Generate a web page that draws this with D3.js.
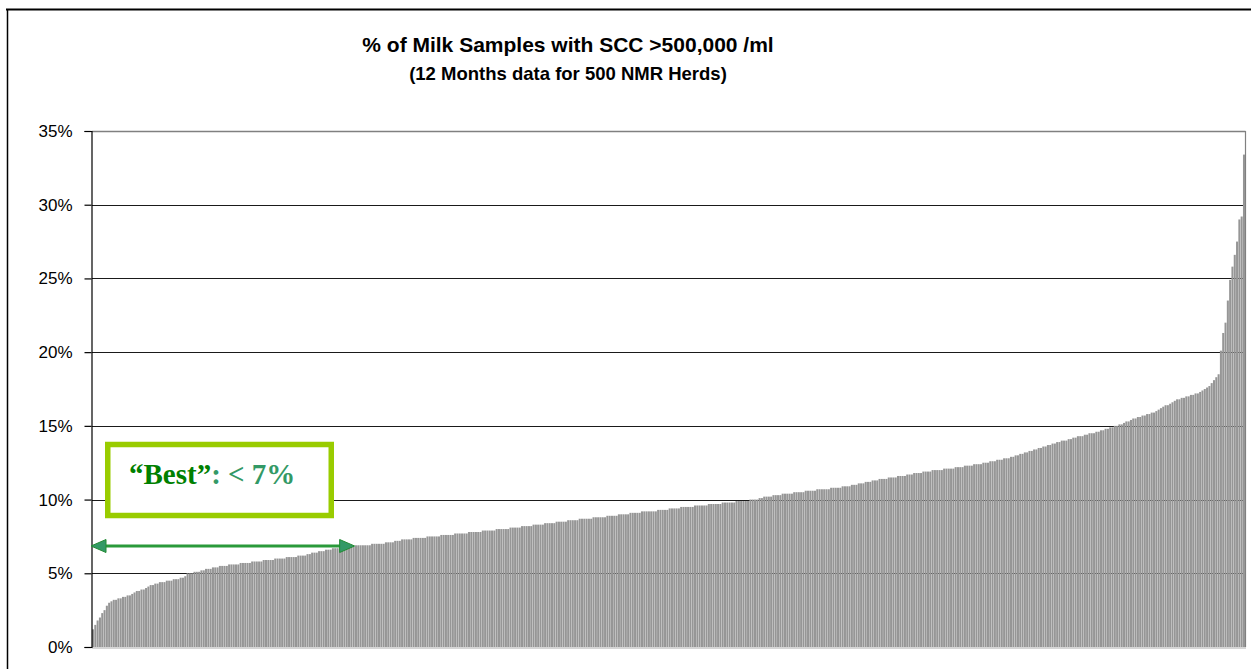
<!DOCTYPE html>
<html>
<head>
<meta charset="utf-8">
<script src="https://cdn.jsdelivr.net/npm/d3@7"></script>
<style>
  html, body { margin: 0; padding: 0; background: #fff; }
  svg { display: block; }
</style>
</head>
<body>
<svg id="chart" width="1251" height="669"></svg>
<script>
// ---------------- DATA ----------------
const titleText = "% of Milk Samples with SCC >500,000 /ml";
const subtitleText = "(12 Months data for 500 NMR Herds)";
const yTicks = [0, 0.05, 0.10, 0.15, 0.20, 0.25, 0.30, 0.35];
const yTickLabels = ["0%", "5%", "10%", "15%", "20%", "25%", "30%", "35%"];
const bestLabelDark = "\u201CBest\u201D";
const bestLabelLight = ": < 7%";
const bestArrowEndHerd = 113;   // herd rank where the "< 7%" arrow ends

// % of samples > 500,000 /ml, herds sorted ascending (percent values)
const herdsLowest = [
  1.2,1.5,1.8,2.0,2.3,2.5,2.8,3.0,3.1,3.2,
  3.2,3.3,3.3,3.4,3.4,3.5,3.5,3.6,3.7,3.8,
  3.8,3.9,3.9,4.0,4.1,4.2,4.2,4.3,4.3,4.4,
  4.4,4.4,4.5,4.5,4.5,4.6,4.6,4.6,4.7,4.7,
  4.8
];
const herdsBest = [
  5.0,5.0,5.0,5.1,5.1,5.1,5.2,5.2,5.3,5.3,5.3,5.4,
  5.4,5.4,5.5,5.5,5.5,5.5,5.6,5.6,5.6,5.6,5.6,5.7,5.7,5.7,5.7,
  5.7,5.8,5.8,5.8,5.8,5.8,5.9,5.9,5.9,5.9,5.9,6.0,6.0,6.0,6.0,
  6.0,6.1,6.1,6.1,6.1,6.1,6.2,6.2,6.2,6.2,6.3,6.3,6.4,6.4,
  6.4,6.5,6.5,6.5,6.6,6.6,6.6,6.7,6.7,6.7,6.7,
  6.8,6.8,6.8,6.8,6.8,6.8,6.9,6.9,6.9,6.9,6.9,6.9,6.9,7.0,7.0,7.0,7.0,7.0
];
const herdsMiddle = [
  7.0,7.1,7.1,7.1,7.1,7.2,7.2,7.2,7.3,
  7.3,7.3,7.3,7.3,7.4,7.4,7.4,7.4,7.4,7.4,7.5,7.5,7.5,7.5,7.5,7.5,7.6,7.6,7.6,7.6,7.6,
  7.6,7.7,7.7,7.7,7.7,7.7,7.7,7.8,7.8,7.8,7.8,7.8,7.8,7.9,7.9,7.9,7.9,7.9,7.9,8.0,8.0,8.0,
  8.0,8.0,8.0,8.1,8.1,8.1,8.1,8.1,8.2,8.2,8.2,8.2,8.2,8.3,8.3,8.3,8.3,8.3,8.4,8.4,8.4,8.4,
  8.4,8.5,8.5,8.5,8.5,8.5,8.6,8.6,8.6,8.6,8.6,8.7,8.7,8.7,8.7,8.7,8.7,8.8,8.8,8.8,8.8,
  8.8,8.8,8.9,8.9,8.9,8.9,8.9,9.0,9.0,9.0,9.0,9.0,9.1,9.1,9.1,9.1,9.1,9.2,9.2,9.2,9.2,9.2,
  9.2,9.2,9.3,9.3,9.3,9.3,9.3,9.4,9.4,9.4,9.4,9.4,9.5,9.5,9.5,9.5,9.5,9.5,9.6,9.6,9.6,9.6,
  9.6,9.6,9.7,9.7,9.7,9.7,9.7,9.7,9.8,9.8,9.8,9.8,9.8,9.8,9.9,9.9,9.9,9.9,9.9,9.9,10.0,10.0,10.0,10.0
];
const herdsUpper = [
  10.1,10.1,10.2,10.2,10.2,10.2,10.3,10.3,10.3,10.3,10.4,10.4,10.4,10.4,10.4,10.5,10.5,10.5,10.5,
  10.5,10.6,10.6,10.6,10.6,10.6,10.7,10.7,10.7,10.7,10.7,10.7,10.8,10.8,10.8,10.8,10.8,10.9,10.9,10.9,10.9,11.0,
  11.0,11.0,11.1,11.1,11.1,11.2,11.2,11.2,11.3,11.3,11.3,11.4,11.4,11.4,11.4,11.5,11.5,11.5,11.5,11.6,11.6,11.6,
  11.6,11.7,11.7,11.7,11.8,11.8,11.8,11.8,11.9,11.9,11.9,11.9,12.0,12.0,12.0,12.0,12.0,12.1,12.1,12.1,12.1,12.1,
  12.2,12.2,12.2,12.2,12.3,12.3,12.3,12.3,12.4,12.4,12.4,12.4,12.5,12.5,
  12.5,12.6,12.6,12.6,12.7,12.7,12.7,12.8,12.8,12.8,12.9,12.9,13.0,13.0,13.1,
  13.1,13.2,13.2,13.3,13.3,13.4,13.4,13.5,13.5,13.6,13.6,13.7,13.7,13.8
];
const herdsHigh = [
  13.8,13.9,13.9,14.0,14.0,14.0,14.1,14.1,14.2,
  14.2,14.3,14.3,14.3,14.4,14.4,14.5,14.5,14.5,14.6,14.6,14.7,
  14.7,14.8,14.8,14.9,14.9,15.0,15.0,15.1,15.1,
  15.2,15.3,15.3,15.4,15.5,15.5,15.6,
  15.6,15.7,15.7,15.8,15.8,15.9,15.9,16.0,16.1,
  16.2,16.3,16.4,16.4,16.5,16.6,16.7,16.8,
  16.8,16.9,16.9,17.0,17.0,17.1,17.1,17.2,17.2,
  17.3,17.4,17.5,17.6,17.7,17.9,18.1,18.3
];
const herdsWorst = [18.5,20.1,21.3,22.0,23.5,24.9,25.8,26.6,27.5,29.0,29.2,33.4];

// ---------------- CHART ----------------
const values = [].concat(herdsLowest, herdsBest, herdsMiddle, herdsUpper, herdsHigh, herdsWorst)
  .map(v => v / 100);
const herds = values.map((v, i) => i);

const svg = d3.select("#chart");
const plot = { left: 92, right: 1245, top: 131, bottom: 647 };

const x = d3.scaleBand().domain(herds).range([plot.left, plot.right]).paddingInner(0.12).paddingOuter(0);
const y = d3.scaleLinear().domain([0, 0.35]).range([plot.bottom, plot.top]);

// outer frame (page border)
svg.append("line").attr("x1", 6).attr("x2", 1251).attr("y1", 9.5).attr("y2", 9.5)
  .attr("stroke", "#000").attr("stroke-width", 2.2);
svg.append("line").attr("x1", 7.5).attr("x2", 7.5).attr("y1", 9).attr("y2", 669)
  .attr("stroke", "#000").attr("stroke-width", 1.5);

// titles
svg.append("text").attr("x", 568).attr("y", 52).attr("text-anchor", "middle")
  .attr("font-family", "Liberation Sans, Arial, sans-serif").attr("font-weight", "bold")
  .attr("font-size", 21).attr("fill", "#000").text(titleText);
svg.append("text").attr("x", 568).attr("y", 80).attr("text-anchor", "middle")
  .attr("font-family", "Liberation Sans, Arial, sans-serif").attr("font-weight", "bold")
  .attr("font-size", 18.5).attr("fill", "#000").text(subtitleText);

// gridlines
svg.append("g").selectAll("line").data(yTicks.filter(t => t > 0 && t < 0.35)).join("line")
  .attr("x1", plot.left).attr("x2", plot.right)
  .attr("y1", d => Math.round(y(d)) + 0.5).attr("y2", d => Math.round(y(d)) + 0.5)
  .attr("stroke", "#1a1a1a").attr("stroke-width", 1);

// plot area border top / right
svg.append("line").attr("x1", plot.left).attr("x2", plot.right + 0.5)
  .attr("y1", y(0.35) + 0.5).attr("y2", y(0.35) + 0.5).attr("stroke", "#808080").attr("stroke-width", 1.5);
svg.append("line").attr("x1", plot.right + 0.5).attr("x2", plot.right + 0.5)
  .attr("y1", y(0.35)).attr("y2", plot.bottom).attr("stroke", "#808080").attr("stroke-width", 1.2);

// bars
svg.append("g").selectAll("rect").data(values).join("rect")
  .attr("x", (d, i) => x(i))
  .attr("width", x.bandwidth())
  .attr("y", d => y(d))
  .attr("height", d => y(0) - y(d))
  .attr("fill", "#969696");

// bottom axis line
svg.append("line").attr("x1", plot.left).attr("x2", plot.right + 1)
  .attr("y1", plot.bottom + 1).attr("y2", plot.bottom + 1)
  .attr("stroke", "#c8c8c8").attr("stroke-width", 1.5);

// y axis
const yAxis = d3.axisLeft(y).tickValues(yTicks).tickFormat((d, i) => yTickLabels[i])
  .tickSize(7).tickPadding(12);
const gy = svg.append("g").attr("transform", `translate(${plot.left - 0.5},0)`).call(yAxis);
gy.select(".domain").attr("stroke", "#000").attr("stroke-width", 1.2);
gy.selectAll(".tick line").attr("stroke", "#000").attr("stroke-width", 1.2);
gy.selectAll(".tick text").attr("font-family", "Liberation Sans, Arial, sans-serif")
  .attr("font-size", 17).attr("fill", "#000");

// "Best" annotation box
const boxG = svg.append("g");
boxG.append("rect").attr("x", 107.75).attr("y", 444.5).attr("width", 223.5).attr("height", 71)
  .attr("fill", "#fff").attr("stroke", "#99cc00").attr("stroke-width", 5.5);
const bt = boxG.append("text").attr("x", 129).attr("y", 484)
  .attr("font-family", "Liberation Serif, Times New Roman, serif").attr("font-weight", "bold")
  .attr("font-size", 29);
bt.append("tspan").attr("fill", "#008000").text(bestLabelDark);
bt.append("tspan").attr("fill", "#339966").text(bestLabelLight);

// double-headed arrow spanning the best herds
const ax1 = plot.left - 1;
const ax2 = x(bestArrowEndHerd) + 2;
const ay = 546;
const headL = 15, headH = 6.5;
svg.append("line").attr("x1", ax1 + headL - 2).attr("x2", ax2 - headL + 2)
  .attr("y1", ay).attr("y2", ay).attr("stroke", "#2a9a3a").attr("stroke-width", 2.8);
svg.append("path")
  .attr("d", `M${ax1},${ay} L${ax1 + headL},${ay - headH} L${ax1 + headL},${ay + headH} Z`)
  .attr("fill", "#339966").attr("stroke", "#228b33").attr("stroke-width", 1);
svg.append("path")
  .attr("d", `M${ax2},${ay} L${ax2 - headL},${ay - headH} L${ax2 - headL},${ay + headH} Z`)
  .attr("fill", "#339966").attr("stroke", "#228b33").attr("stroke-width", 1);
</script>
</body>
</html>
